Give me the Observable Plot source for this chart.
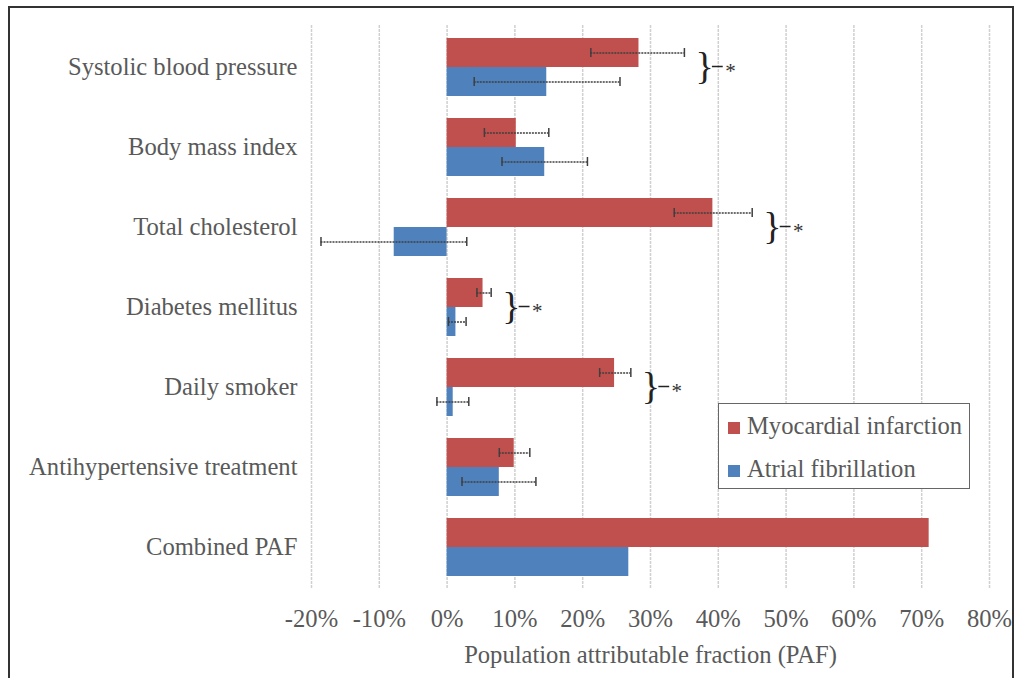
<!DOCTYPE html>
<html><head><meta charset="utf-8">
<script src="https://cdn.jsdelivr.net/npm/d3@7"></script>
<script src="https://cdn.jsdelivr.net/npm/@observablehq/plot@0.6"></script>
<style>
body{margin:0;background:#fff;font-family:"Liberation Serif","Times New Roman",serif;}
#wrap{position:relative;width:1021px;height:678px;overflow:hidden;}
#chart{position:absolute;left:0;top:0;}
#frame{position:absolute;left:8px;top:6px;width:1006px;height:720px;border:2px solid #333;box-sizing:border-box;pointer-events:none;}
#legend{position:absolute;left:718px;top:403px;width:252px;height:86px;border:1px solid #666;box-sizing:border-box;background:#fff;}
#legend .item{position:absolute;left:9px;height:24px;line-height:24px;font-size:24.6px;color:#595959;white-space:nowrap;}
#legend .sw{display:inline-block;width:12px;height:12px;margin-right:7px;vertical-align:0px;}
</style></head>
<body><div id="wrap"><div id="chart"></div><div id="frame"></div><div id="legend"></div></div>
<script>
const categories = ["Systolic blood pressure", "Body mass index", "Total cholesterol", "Diabetes mellitus", "Daily smoker", "Antihypertensive treatment", "Combined PAF"];
const seriesNames = ["Myocardial infarction", "Atrial fibrillation"];
const seriesColors = ["#C0504D", "#4F81BD"];
const miValues = [28.3, 10.2, 39.2, 5.3, 24.7, 9.9, 71.1];
const miLow    = [21.2, 5.5, 33.5, 4.4, 22.5, 7.7, null];
const miHigh   = [35.0, 15.0, 45.0, 6.5, 27.1, 12.2, null];
const afValues = [14.7, 14.4, -7.8, 1.3, 0.9, 7.7, 26.8];
const afLow    = [4.0, 8.1, -18.6, 0.2, -1.5, 2.2, null];
const afHigh   = [25.5, 20.7, 2.9, 2.8, 3.2, 13.1, null];
const significant = [true, false, true, true, true, false, false];
const xTicks = [-20, -10, 0, 10, 20, 30, 40, 50, 60, 70, 80];
const xTitle = "Population attributable fraction (PAF)";

const mi = categories.map((c, i) => ({category: c, value: miValues[i], lo: miLow[i], hi: miHigh[i]}));
const af = categories.map((c, i) => ({category: c, value: afValues[i], lo: afLow[i], hi: afHigh[i]}));
const miErr = mi.filter(d => d.lo != null);
const afErr = af.filter(d => d.lo != null);
const sig = categories.map((c, i) => ({category: c, hi: Math.max(miHigh[i] ?? 0, afHigh[i] ?? 0), s: significant[i]})).filter(d => d.s);

const half = 29; // half of the band (each series occupies one half)
const errStyle = {stroke: "#3f3f3f", strokeWidth: 1.5};

const chart = Plot.plot({
  width: 1021, height: 678,
  marginLeft: 311, marginRight: 32, marginTop: 25, marginBottom: 89,
  style: {fontFamily: "'Liberation Serif', 'Times New Roman', serif", fontSize: "24.6px", color: "#595959", background: "transparent"},
  x: {domain: [-20, 80], ticks: xTicks, tickFormat: d => d + "%", tickSize: 0, tickPadding: 20,
      label: xTitle, labelAnchor: "center", labelOffset: 73, labelArrow: "none"},
  y: {domain: categories, paddingInner: 0.28, paddingOuter: 0.14, tickSize: 0, tickPadding: 14, label: null},
  marks: [
    Plot.ruleX(xTicks, {x: d => d, stroke: "#d0d0d0", strokeWidth: 1.5, strokeDasharray: "3,1"}),
    Plot.barX(mi, {x1: () => 0, x2: "value", y: "category", fill: seriesColors[0], insetBottom: half}),
    Plot.barX(af, {x1: () => 0, x2: "value", y: "category", fill: seriesColors[1], insetTop: half}),
    Plot.ruleY(miErr, {y: "category", x1: "lo", x2: "hi", dy: -half / 2, ...errStyle, strokeDasharray: "2,1"}),
    Plot.ruleY(afErr, {y: "category", x1: "lo", x2: "hi", dy: half / 2, ...errStyle, strokeDasharray: "2,1"}),
    Plot.tickX(miErr, {x: "lo", y: "category", insetTop: 24.5, insetBottom: 24.5, dy: -half / 2, ...errStyle}),
    Plot.tickX(miErr, {x: "hi", y: "category", insetTop: 24.5, insetBottom: 24.5, dy: -half / 2, ...errStyle}),
    Plot.tickX(afErr, {x: "lo", y: "category", insetTop: 24.5, insetBottom: 24.5, dy: half / 2, ...errStyle}),
    Plot.tickX(afErr, {x: "hi", y: "category", insetTop: 24.5, insetBottom: 24.5, dy: half / 2, ...errStyle}),
    // significance brace, connector and asterisk
    Plot.text(sig, {x: "hi", y: "category", text: () => "}", textAnchor: "start", dx: 11, dy: -1, fontSize: 38, fill: "#222"}),
    Plot.ruleY(sig, {y: "category", x1: "hi", x2: d => d.hi + 1.6, dx: 28, dy: -1, stroke: "#222", strokeWidth: 1.5}),
    Plot.text(sig, {x: "hi", y: "category", text: () => "*", dx: 46, dy: 4, fontSize: 21, fill: "#333"})
  ]
});
document.getElementById("chart").appendChild(chart);

const legend = document.getElementById("legend");
seriesNames.forEach((name, i) => {
  const item = document.createElement("div");
  item.className = "item";
  item.style.top = (10 + i * 43) + "px";
  const sw = document.createElement("span");
  sw.className = "sw";
  sw.style.background = seriesColors[i];
  item.appendChild(sw);
  item.appendChild(document.createTextNode(name));
  legend.appendChild(item);
});
</script>
</body></html>
